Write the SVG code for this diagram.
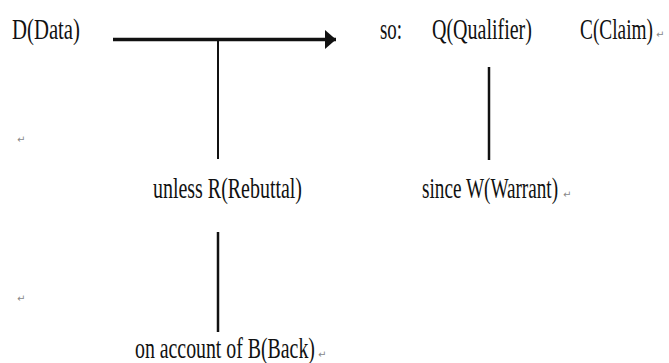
<svg xmlns="http://www.w3.org/2000/svg" width="669" height="363" viewBox="0 0 669 363">
<style>
.t{font-family:"Liberation Serif","Times New Roman",serif;font-size:30px;fill:#111}
.pm{font-family:"DejaVu Sans",sans-serif;font-size:10px;fill:#888}
.ln{stroke:#111;fill:none}
</style>
<defs>
<marker id="ah" markerWidth="12" markerHeight="20" refX="11" refY="9.5" orient="auto" markerUnits="userSpaceOnUse">
<path d="M0,0 L11,9.5 L0,19 Z" fill="#111"/>
</marker>
</defs>
<rect width="669" height="363" fill="#fff"/>
<g id="connectors">
<line class="ln" x1="113" y1="39.5" x2="336" y2="39.5" stroke-width="3.5" marker-end="url(#ah)"/>
<line class="ln" x1="218" y1="39.5" x2="218" y2="159" stroke-width="2"/>
<line class="ln" x1="489" y1="67" x2="489" y2="160" stroke-width="2.5"/>
<line class="ln" x1="218" y1="232" x2="218" y2="332" stroke-width="2.5"/>
</g>
<g id="data"><text class="t" transform="matrix(0.692 0 0 1 12 39)">D(Data)</text></g>
<g id="so"><text class="t" transform="matrix(0.63 0 0 1 380 39)">so:</text></g>
<g id="qualifier"><text class="t" transform="matrix(0.667 0 0 1 432 39)">Q(Qualifier)</text></g>
<g id="claim"><text class="t" transform="matrix(0.644 0 0 1 580 39)">C(Claim)</text><text class="pm" x="656" y="38">↵</text></g>
<g id="rebuttal"><text class="t" transform="matrix(0.665 0 0 1 153 198)">unless R(Rebuttal)</text></g>
<g id="warrant"><text class="t" transform="matrix(0.64 0 0 1 422 198)">since W(Warrant)</text><text class="pm" x="563" y="198">↵</text></g>
<g id="backing"><text class="t" transform="matrix(0.661 0 0 1 135 358)">on account of B(Back)</text><text class="pm" x="318" y="358">↵</text></g>
<g id="marks"><text class="pm" x="17" y="143">↵</text><text class="pm" x="17" y="302">↵</text></g>
</svg>
